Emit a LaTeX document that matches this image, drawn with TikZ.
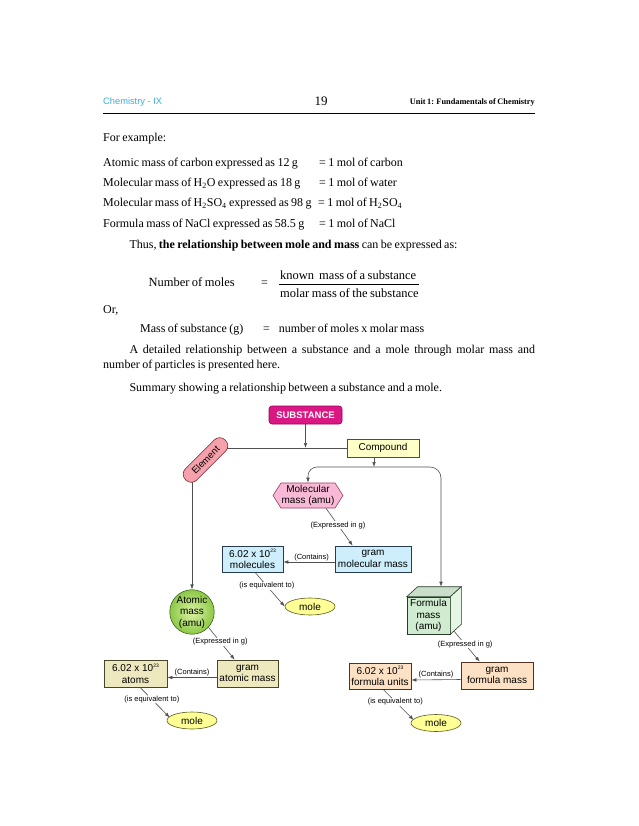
\documentclass[tikz,border=0pt]{standalone}
\usepackage{fontspec}
\setmainfont{Liberation Serif}[WordSpace=0.8]
\newfontfamily\dsans{Liberation Sans}
\usetikzlibrary{shapes.geometric,shapes.symbols,arrows.meta,calc}
\definecolor{hdrcyan}{RGB}{60,175,215}
\definecolor{submag}{RGB}{218,24,132}
\definecolor{subbd}{RGB}{150,0,90}
\definecolor{elpink}{RGB}{245,160,170}
\definecolor{elbd}{RGB}{120,40,50}
\definecolor{cmpyel}{RGB}{255,255,200}
\definecolor{hexpink}{RGB}{248,185,215}
\definecolor{hexbd}{RGB}{150,60,100}
\definecolor{lblue}{RGB}{205,238,250}
\definecolor{lbluebd}{RGB}{40,60,80}
\definecolor{agreen}{RGB}{140,200,70}
\definecolor{agreenin}{RGB}{220,242,165}
\definecolor{agreenbd}{RGB}{60,100,30}
\definecolor{khaki}{RGB}{238,232,190}
\definecolor{khakibd}{RGB}{70,70,40}
\definecolor{cubefront}{RGB}{208,236,208}
\definecolor{cubetop}{RGB}{200,222,200}
\definecolor{cuberight}{RGB}{228,246,228}
\definecolor{cubebd}{RGB}{40,60,40}
\definecolor{lorange}{RGB}{253,225,196}
\definecolor{lorangebd}{RGB}{80,50,30}
\definecolor{moleyel}{RGB}{255,255,150}
\definecolor{molebd}{RGB}{90,90,30}
\definecolor{conn}{RGB}{80,80,80}
\newcommand\myexp[1]{\raisebox{0.8ex}{\fontsize{5}{5}\selectfont #1}}
\pgfdeclarelayer{bg}
\pgfsetlayers{bg,main}
\begin{document}
\begin{tikzpicture}[x=1pt,y=-1pt,
  body/.style={anchor=base west, inner sep=0pt, font=\fontsize{12}{14}\selectfont},
  boxt/.style={draw, line width=0.6pt, align=center, inner sep=1pt,
     font=\dsans\fontsize{10}{11.5}\selectfont},
  lbl/.style={inner sep=0.5pt, fill=white, font=\dsans\fontsize{7.5}{9}\selectfont},
  ln/.style={draw=conn, line width=0.6pt},
  arr/.style={ln, -{Latex[length=5pt,width=3.6pt]}},
  molebox/.style={ellipse, draw=molebd, fill=moleyel, line width=0.6pt, inner sep=0pt,
     minimum width=50, minimum height=17, font=\dsans\fontsize{10}{11.5}\selectfont}
  ]
\useasboundingbox (0,0) rectangle (638,826);
% header
\node[anchor=base west, inner sep=0pt, text=hdrcyan, font=\dsans\fontsize{9.3}{11}\selectfont] (h1) at (103,105) {Chemistry - IX};
\node[anchor=base, inner sep=0pt, font=\fontsize{13}{15}\selectfont] (h2) at (321,106) {19};
\node[anchor=base east, inner sep=0pt, font=\bfseries\fontsize{8.3}{10}\selectfont] (h3) at (535,105) {Unit 1: Fundamentals of Chemistry};
\draw[line width=0.9pt] (103,113.3) -- (535,113.3);
% body text
\node[body] (t0) at (103,142) {For example:};
\node[body] (t1) at (103,166.5) {Atomic mass of carbon expressed as 12 g};
\node[body] (e1) at (319,166.5) {= 1 mol of carbon};
\node[body] (t2) at (103,187) {Molecular mass of H\textsubscript{2}O expressed as 18 g};
\node[body] (e2) at (319,187) {= 1 mol of water};
\node[body] (t3) at (103,207) {Molecular mass of H\textsubscript{2}SO\textsubscript{4} expressed as 98 g};
\node[body] (e3) at (318,207) {= 1 mol of H\textsubscript{2}SO\textsubscript{4}};
\node[body] (t4) at (103,227.5) {Formula mass of NaCl expressed as 58.5 g};
\node[body] (e4) at (319,227.5) {= 1 mol of NaCl};
\node[body] (thus) at (129.3,248) {Thus, \textbf{the relationship between mole and mass} can be expressed as:};
\node[body, font=\fontsize{12.5}{14}\selectfont] (nm) at (148.3,286) {Number of moles};
\node[body] (eq1) at (261,286) {=};
\node[body, font=\fontsize{12.5}{14}\selectfont] (num) at (280,279) {known\ \ mass of a substance};
\node[body, font=\fontsize{12.5}{14}\selectfont] (den) at (280,297) {molar mass of the substance};
\draw[line width=0.6pt] (279.3,284.2) -- (419.3,284.2);
\node[body] (or) at (103,313) {Or,};
\node[body] (ms) at (140,332) {Mass of substance (g)};
\node[body] (eq2) at (263,332) {=};
\node[body] (nmx) at (278.7,332) {number of moles x molar mass};
\node[body] (p1) at (129.3,353) {\makebox[405.7pt][s]{A detailed relationship between a substance and a mole through molar mass and}};
\node[body] (p2) at (103,368.5) {number of particles is presented here.};
\node[body] (sm) at (129.3,391) {Summary showing a relationship between a substance and a mole.};
% diagram nodes
\node[draw=subbd, fill=submag, rounded corners=3pt, line width=0.6pt, text=white,
  font=\dsans\bfseries\fontsize{9.5}{11}\selectfont, minimum width=73, minimum height=18, inner sep=1pt] (sub) at (305.5,415) {SUBSTANCE};
\node[boxt, draw=black!70, fill=cmpyel, minimum width=72, minimum height=18] (cmp) at (383,448) {Compound};
\node[draw=elbd, fill=elpink, rounded corners=7.5pt, line width=0.6pt, rotate=45,
  minimum width=56, minimum height=16, inner sep=1pt, font=\dsans\fontsize{9.5}{11}\selectfont] (el) at (205.5,460) {Element};
\node[boxt, signal, signal to=east and west, signal pointer angle=115, draw=hexbd, fill=hexpink,
  minimum width=70, minimum height=25, inner sep=0pt] (mm) at (308,495.5) {Molecular\\mass (amu)};
\node[boxt, draw=lbluebd, fill=lblue, minimum width=76, minimum height=26] (gmm) at (373,559) {gram\\molecular mass};
\node[boxt, draw=lbluebd, fill=lblue, minimum width=61, minimum height=26] (mol) at (252.5,559) {6.02 x 10\myexp{23}\\molecules};
\node[molebox] (mole1) at (310,606.5) {mole};
\node[boxt, circle, draw=agreenbd, inner color=agreenin, outer color=agreen, minimum size=44, inner sep=0pt] (atom) at (192,612) {Atomic\\mass\\(amu)};
\node[boxt, draw=cubebd, fill=cubefront, minimum width=43, minimum height=37, inner sep=0pt] (fm) at (428.5,615.5) {Formula\\mass\\(amu)};
\draw[draw=cubebd, fill=cubetop, line width=0.6pt] (fm.north west) -- ++(11,-10) -- ($(fm.north east)+(11,-10)$) -- (fm.north east) -- cycle;
\draw[draw=cubebd, fill=cuberight, line width=0.6pt] (fm.north east) -- ++(11,-10) -- ($(fm.south east)+(11,-10)$) -- (fm.south east) -- cycle;
\node[boxt, draw=khakibd, fill=khaki, minimum width=61, minimum height=27] (gam) at (247.5,673.5) {gram\\atomic mass};
\node[boxt, draw=khakibd, fill=khaki, minimum width=63, minimum height=27] (atm) at (135.5,673.5) {6.02 x 10\myexp{23}\\atoms};
\node[molebox] (mole2) at (192,720.5) {mole};
\node[boxt, draw=lorangebd, fill=lorange, minimum width=72, minimum height=27] (gfm) at (497,675.5) {gram\\formula mass};
\node[boxt, draw=lorangebd, fill=lorange, minimum width=62, minimum height=26] (fu) at (380,676) {6.02 x 10\myexp{23}\\formula units};
\node[molebox] (mole3) at (436,723) {mole};
% connectors
\coordinate (j1) at (305.5,448);
\coordinate (j2) at (374,467);
\coordinate (ftop) at ($(fm.north)+(12.5,-10)$);
\begin{pgfonlayer}{bg}
\draw[arr] (sub) -- (j1);
\draw[ln] (el.east |- j1) -- (cmp.west);
\draw[arr] (el.west -| atom.north) -- (atom.north);
\draw[arr] (cmp.south -| j2) -- (j2);
\draw[arr, rounded corners=9pt] (j2) -| (mm.north);
\draw[arr, rounded corners=11pt] (j2) -| (ftop);
% molecular branch
\draw[arr] ($(mm.south)+(18,0)$) -- node[lbl, pos=0.45] {(Expressed in g)} ($(gmm.north west)+(18,0)$);
\draw[arr] ($(gmm.west)+(0,3)$) -- node[lbl, above=0.5pt, pos=0.45] {(Contains)} ($(mol.east)+(0,3)$);
\draw[arr] ($(mol.south)+(2.5,0)$) -- node[lbl, pos=0.4] {(is equivalent to)} (mole1.west);
% atomic branch
\draw[arr] (atom.-43) -- node[lbl, pos=0.45] {(Expressed in g)} ($(gam.north west)+(18,0)$);
\draw[arr] ($(gam.west)+(0,4)$) -- node[lbl, above=0.5pt, pos=0.5] {(Contains)} ($(atm.east)+(0,4)$);
\draw[arr] ($(atm.south)+(4.5,0)$) -- node[lbl, pos=0.4] {(is equivalent to)} ($(mole2.west)+(3,-3)$);
% formula branch
\draw[arr] ($(fm.south east)+(3,-4)$) -- node[lbl, pos=0.45] {(Expressed in g)} ($(gfm.north west)+(19,0)$);
\draw[arr] ($(gfm.west)+(0,4)$) -- node[lbl, above=0.5pt, pos=0.5] {(Contains)} ($(fu.east)+(0,4)$);
\draw[arr] ($(fu.south)+(3,0)$) -- node[lbl, pos=0.4] {(is equivalent to)} ($(mole3.west)+(3,-3)$);
\end{pgfonlayer}
\end{tikzpicture}
\end{document}
